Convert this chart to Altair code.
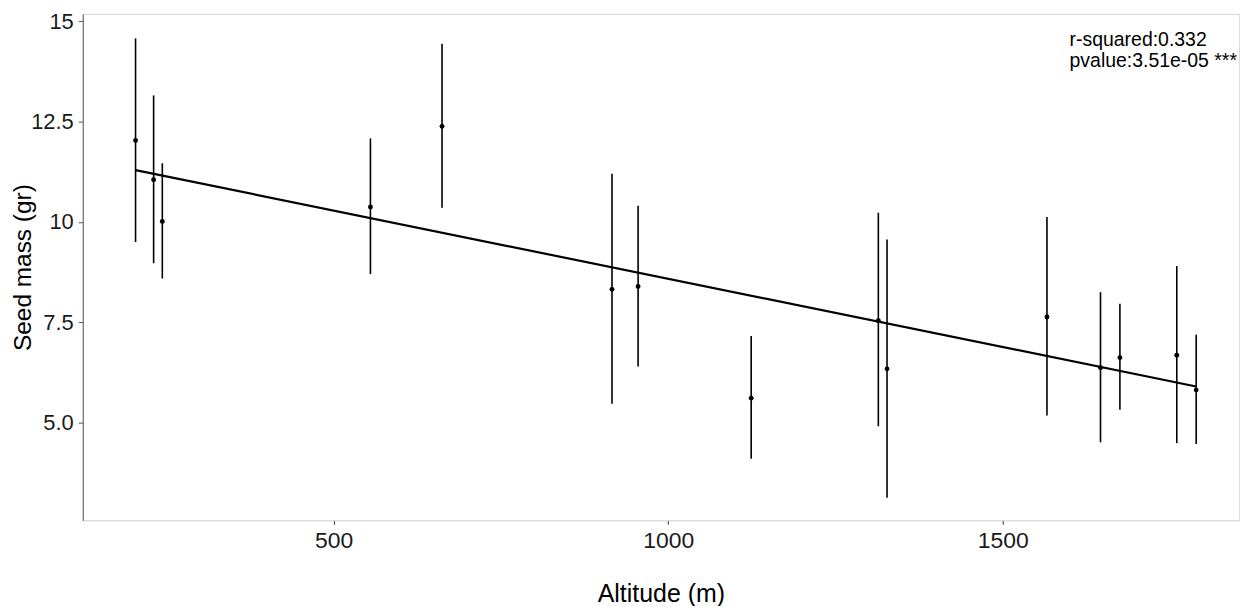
import altair as alt
import pandas as pd

# Data
altitude = [204, 231, 244, 555, 662, 916, 955, 1124, 1314, 1327, 1566, 1646, 1675, 1760, 1789]
seed_mean = [12.03, 11.05, 10.01, 10.37, 12.38, 8.32, 8.39, 5.61, 7.54, 6.34, 7.63, 6.37, 6.62, 6.68, 5.81]
seed_low = [9.50, 8.97, 8.59, 8.70, 10.35, 5.47, 6.40, 4.10, 4.91, 3.13, 5.18, 4.51, 5.32, 4.49, 4.47]
seed_high = [14.57, 13.15, 11.46, 12.08, 14.44, 11.20, 10.40, 7.16, 10.23, 9.56, 10.12, 8.25, 7.96, 8.90, 7.19]

fit_x = [204, 1789]
fit_y = [11.29, 5.90]

x_ticks = [500, 1000, 1500]
y_ticks = [15, 12.5, 10, 7.5, 5]
annotation = ["r-squared:0.332", "pvalue:3.51e-05 ***"]

df = pd.DataFrame({"alt": altitude, "mean": seed_mean, "lo": seed_low, "hi": seed_high})
fit = pd.DataFrame({"alt": fit_x, "fit": fit_y})

FONT = "Liberation Sans"
xs = alt.Scale(domain=[125.1, 1853], nice=False, zero=False)
ys = alt.Scale(domain=[2.567, 15.18], nice=False, zero=False)

y_axis = alt.Axis(
    values=y_ticks, title="Seed mass (gr)", grid=False,
    labelExpr="datum.value == 5 ? '5.0' : format(datum.value, '')",
    domainColor="#555555", domainWidth=1, tickColor="#555555", tickSize=4.5,
    labelFont=FONT, labelFontSize=22, labelColor="#1a1a1a", labelPadding=5,
    titleFont=FONT, titleFontSize=24.5, titleFontWeight="normal", titleColor="black",
    titleX=-47)

bars = alt.Chart(df).mark_rule(color="black", strokeWidth=1.6).encode(
    x=alt.X("alt:Q", scale=xs, axis=alt.Axis(
        values=x_ticks, format="d", title="Altitude (m)", grid=False,
        domainColor="#d9d9d9", domainWidth=1, tickColor="#333333", tickSize=4, tickWidth=1,
        labelFont=FONT, labelFontSize=23, labelColor="#1a1a1a", labelPadding=5,
        titleFont=FONT, titleFontSize=25, titleFontWeight="normal", titleColor="black",
        titleBaseline="alphabetic", titleY=81)),
    y=alt.Y("lo:Q", scale=ys, axis=y_axis),
    y2="hi:Q",
)

points = alt.Chart(df).mark_circle(color="black", size=24, opacity=1).encode(
    x=alt.X("alt:Q", scale=xs, axis=alt.Axis(
        values=x_ticks, title="", labels=False, domain=False, grid=False,
        tickColor="#333333", tickSize=4, tickWidth=1, offset=46)),
    y=alt.Y("mean:Q", scale=ys, axis=y_axis),
)

line = alt.Chart(fit).mark_line(color="black", strokeWidth=2.2).encode(
    x=alt.X("alt:Q", scale=xs, axis=alt.Axis(
        orient="top", title="", labels=False, ticks=False, grid=False,
        domainColor="#d9d9d9", domainWidth=1)),
    y=alt.Y("fit:Q", scale=ys, axis=y_axis),
)

text = alt.Chart(pd.DataFrame({"t": [0]})).mark_text(
    align="left", baseline="alphabetic", font=FONT, fontSize=19.5, lineHeight=21,
    color="black", text=annotation,
).encode(x=alt.value(990), y=alt.value(32))

chart = alt.layer(bars, points, line, text).resolve_axis(x="independent").properties(
    width=1160, height=508,
    autosize=alt.AutoSizeParams(type="none"),
    padding={"left": 75, "top": 5, "right": 5, "bottom": 85},
).configure_view(strokeWidth=0).configure(background="white")

chart.save("out.html", embed_options={"renderer": "svg", "actions": False})
